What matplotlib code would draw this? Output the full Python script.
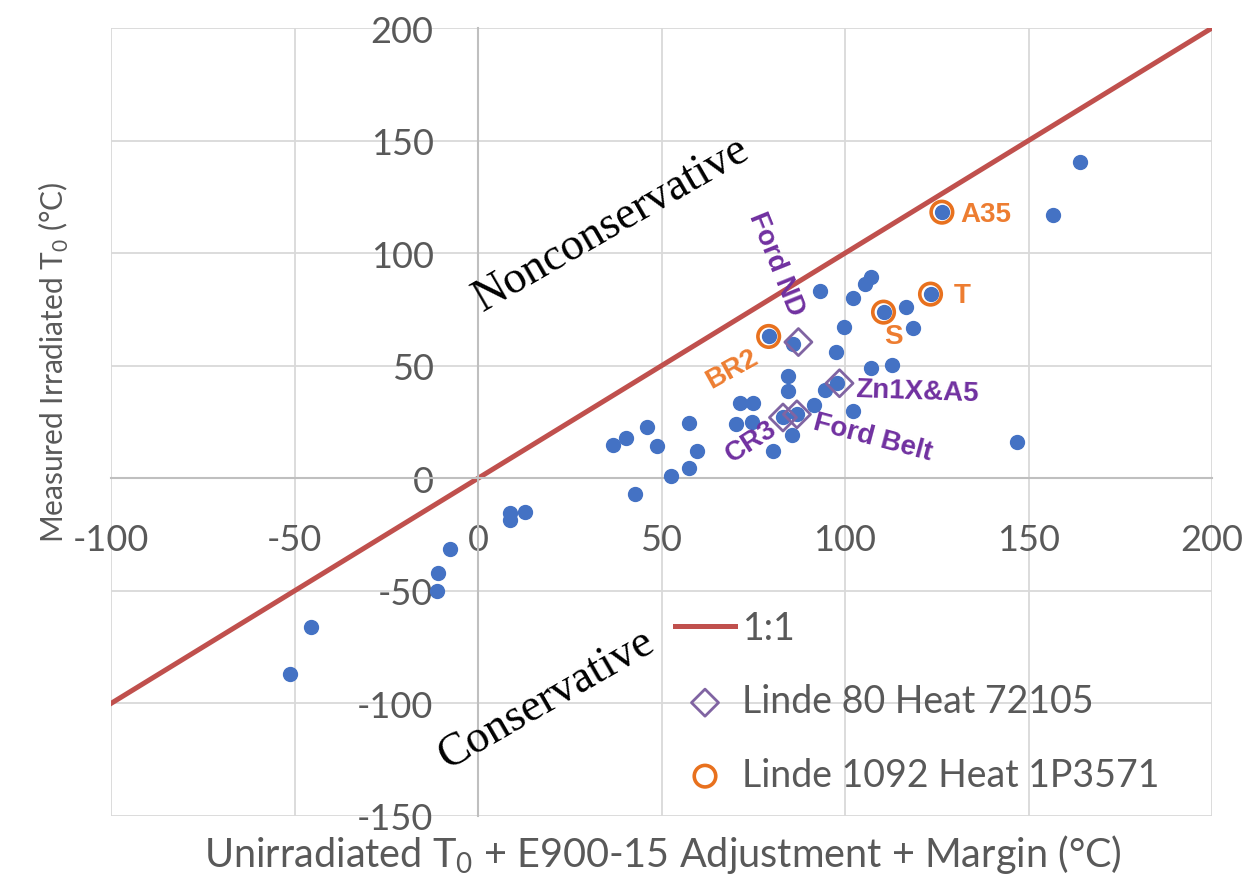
import matplotlib.pyplot as plt

plt.rcParams['axes.unicode_minus'] = False

# all measured points (unirradiated T0 + adjustment + margin, measured irradiated T0)
t0_pred = [-51.3, -45.5, -11.1, -10.8, -7.6, 8.7, 8.7, 12.8, 36.9, 40.4,
           42.8, 46.0, 48.7, 52.5, 57.4, 57.4, 59.6, 70.4, 71.3, 74.6,
           74.9, 79.2, 80.5, 83.1, 84.4, 84.4, 85.5, 85.8, 86.9, 91.5,
           93.1, 94.6, 97.6, 97.8, 99.8, 102.1, 102.1, 105.5, 107.1, 107.2,
           110.5, 112.8, 116.7, 118.5, 123.3, 126.4, 147.0, 156.6, 164.0]
t0_meas = [-87.1, -66.2, -50.1, -42.2, -31.4, -15.6, -18.5, -15.1, 14.8, 18.1,
           -7.1, 23.0, 14.5, 1.0, 4.7, 24.4, 12.1, 24.1, 33.3, 25.2,
           33.3, 63.0, 12.1, 27.0, 45.6, 38.8, 19.3, 59.5, 28.4, 32.6,
           83.0, 39.3, 56.0, 42.2, 67.4, 80.0, 30.1, 86.2, 89.2, 48.9,
           73.8, 50.1, 76.3, 66.7, 81.8, 118.2, 16.0, 117.0, 140.7]

# Linde 80 Heat 72105: Ford ND, Zn1X&A5, CR3, Ford Belt
linde80_x = [87.3, 98.5, 83.1, 86.9]
linde80_y = [60.5, 42.2, 27.0, 28.4]

# Linde 1092 Heat 1P3571: BR2, S, T, A35
linde1092_x = [79.2, 110.5, 123.3, 126.4]
linde1092_y = [63.0, 73.8, 81.8, 118.2]

one_to_one = [-100, 200]

grey = '#595959'
fnt = 'Lato'

fig = plt.figure(figsize=(12.45, 8.79), dpi=100)
ax = fig.add_axes([111/1245, 62/879, 1101/1245, 788/879])

ax.plot(one_to_one, one_to_one, color='#C0504D', lw=3.6, label='1:1', zorder=2)
ax.scatter(t0_pred, t0_meas, s=100, color='#4472C4', zorder=3)
ax.scatter(linde80_x, linde80_y, s=190, marker='D', facecolors='none',
           edgecolors='#8064A2', linewidths=2.0, label='Linde 80 Heat 72105', zorder=4)
ax.scatter(linde1092_x, linde1092_y, s=240, marker='o', facecolors='none',
           edgecolors='#E8711E', linewidths=2.6, label='Linde 1092 Heat 1P3571', zorder=4)

ax.set_xlim(-100, 200)
ax.set_ylim(-150, 200)
ax.set_xticks(range(-100, 201, 50))
ax.set_yticks(range(-150, 201, 50))
ax.grid(color='#D9D9D9', lw=1.3)
ax.set_axisbelow(True)
for s in ['top', 'right']:
    ax.spines[s].set_visible(False)
ax.spines['left'].set_position(('data', 0))
ax.spines['bottom'].set_position(('data', 0))
for s in ['left', 'bottom']:
    ax.spines[s].set_color('#BFBFBF')
    ax.spines[s].set_linewidth(1.5)
ax.tick_params(length=0, labelsize=26, labelcolor=grey)
ax.tick_params(axis='x', pad=32)
ax.tick_params(axis='y', pad=32)
for lab in ax.get_xticklabels() + ax.get_yticklabels():
    lab.set_fontfamily(fnt)

# region labels either side of the 1:1 line
ax.text(36.5, 113.3, 'Nonconservative', family='Liberation Serif', fontsize=33,
        rotation=30, ha='center', va='center', rotation_mode='anchor')
ax.text(18.5, -97.8, 'Conservative', family='Liberation Serif', fontsize=33,
        rotation=30, ha='center', va='center', rotation_mode='anchor')

# heat labels
purple = '#7030A0'
orange = '#ED7D31'
for txt, x, y, rot, col in [('Ford ND', 81.3, 95.6, -68, purple),
                            ('Zn1X&A5', 119.6, 38.7, -2, purple),
                            ('CR3', 74.6, 16.4, 33, purple),
                            ('Ford Belt', 107.6, 18.2, -15, purple),
                            ('BR2', 69.2, 48.9, 29, orange),
                            ('A35', 138.3, 117.3, 0, orange),
                            ('T', 132.0, 81.3, 0, orange),
                            ('S', 113.2, 63.1, 0, orange)]:
    ax.text(x, y, txt, color=col, fontsize=20, fontweight='bold',
            family='Liberation Sans', rotation=rot, ha='center', va='center',
            rotation_mode='anchor')

leg = ax.legend(loc='upper left', bbox_to_anchor=(660/1245, 1-596/879),
                bbox_transform=fig.transFigure, frameon=False,
                prop={'family': fnt, 'size': 27}, handlelength=1.6,
                handletextpad=0.2, labelspacing=1.0, borderaxespad=0)
for t in leg.get_texts():
    t.set_color(grey)

fig.text(54/1245, 1-362/879, r'Measured Irradiated T$_\mathregular{0}$ (°C)',
         family=fnt, fontsize=21.5, color=grey, rotation=90, ha='center', va='center')
fig.text(663/1245, 1-855/879,
         r'Unirradiated T$_\mathregular{0}$ + E900-15 Adjustment + Margin (°C)',
         family=fnt, fontsize=28.5, color=grey, ha='center', va='center')

fig.savefig('out.png', dpi=100)
